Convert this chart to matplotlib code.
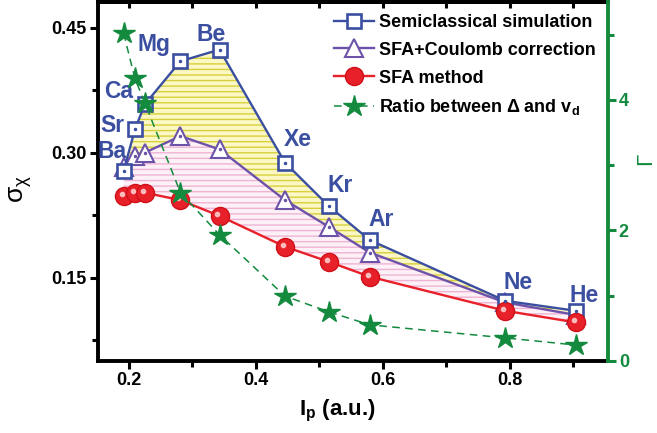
import matplotlib
matplotlib.use('Agg')
import matplotlib.pyplot as plt
import matplotlib.transforms as mtransforms
from matplotlib.ticker import MultipleLocator
from matplotlib.lines import Line2D

plt.rcParams['font.family'] = ['Liberation Sans', 'DejaVu Sans']
plt.rcParams['font.weight'] = 'bold'
plt.rcParams['axes.labelweight'] = 'bold'
plt.rcParams['mathtext.fontset'] = 'custom'
plt.rcParams['mathtext.rm'] = 'Liberation Sans:bold'
plt.rcParams['mathtext.it'] = 'Liberation Sans:bold'
plt.rcParams['mathtext.bf'] = 'Liberation Sans:bold'
plt.rcParams['hatch.linewidth'] = 1.0

# ── Data ──────────────────────────────────────────────────────────────────────
ELEMENTS = ['Ba', 'Sr', 'Ca', 'Mg', 'Be', 'Xe', 'Kr', 'Ar', 'Ne', 'He']
IP = [0.1916, 0.2093, 0.2247, 0.2810, 0.3426, 0.4458, 0.5145, 0.5792, 0.7925, 0.9036]
SEMICLASSICAL = [0.278, 0.328, 0.358, 0.410, 0.424, 0.288, 0.236, 0.195, 0.122, 0.110]
SFA_COULOMB = [0.283, 0.296, 0.300, 0.320, 0.304, 0.243, 0.211, 0.180, 0.120, 0.105]
SFA = [0.248, 0.252, 0.252, 0.243, 0.224, 0.187, 0.169, 0.151, 0.110, 0.096]
RATIO = [5.02, 4.33, 3.96, 2.58, 1.93, 0.99, 0.75, 0.55, 0.35, 0.24]

# label offsets (points) from the semiclassical markers
LABEL_OFFSETS = [(-8, 14), (-16, 3), (-19, 9), (-19, 12), (-6, 11),
                 (9, 17), (8, 15), (8, 15), (9, 13), (6, 11)]

BLUE = '#3b4fa1'
PURPLE = '#6d52aa'
RED = '#e8202a'
GREEN = '#138a3e'


def plot(output='out.png'):
    fig = plt.figure(figsize=(6.57, 4.33), dpi=100)
    ax = fig.add_axes([0.149, 0.167, 0.776, 0.828])

    # shaded bands
    ax.fill_between(IP, SFA_COULOMB, SEMICLASSICAL, facecolor='#fbf8c6',
                    edgecolor='#d8d03a', hatch='---', linewidth=0, zorder=1)
    ax.fill_between(IP, SFA, SFA_COULOMB, facecolor='#fdf0f6',
                    edgecolor='#eeb4d4', hatch='---', linewidth=0, zorder=1)

    ax.plot(IP, SEMICLASSICAL, color=BLUE, lw=1.7, marker='s', ms=10.5,
            mfc='white', mec=BLUE, mew=1.9, zorder=4)
    ax.plot(IP, SEMICLASSICAL, ls='none', marker='.', ms=3, color=BLUE, zorder=5)
    ax.plot(IP, SFA_COULOMB, color=PURPLE, lw=1.7, marker='^', ms=13,
            mfc='white', mec=PURPLE, mew=1.5, zorder=3)
    ax.plot(IP, SFA_COULOMB, ls='none', marker='.', ms=3, color=PURPLE, zorder=3.5)
    ax.plot(IP, SFA, color=RED, lw=1.7, marker='o', ms=13,
            mfc=RED, mec='#d01018', zorder=4)
    hl = mtransforms.offset_copy(ax.transData, fig=fig, x=-1.5, y=1.5, units='points')
    ax.plot(IP, SFA, ls='none', marker='o', ms=3, color='#ffc8c8', alpha=0.9,
            transform=hl, zorder=4.5)

    for name, x, y, (dx, dy) in zip(ELEMENTS, IP, SEMICLASSICAL, LABEL_OFFSETS):
        ax.annotate(name, (x, y), xytext=(dx, dy), textcoords='offset points',
                    ha='center', va='center', fontsize=16.5, fontweight='bold',
                    color=BLUE, zorder=6)

    ax.set_xlim(0.151, 0.954)
    ax.set_ylim(0.05, 0.481)
    ax.xaxis.set_major_locator(MultipleLocator(0.2))
    ax.xaxis.set_minor_locator(MultipleLocator(0.1))
    ax.yaxis.set_major_locator(MultipleLocator(0.15))
    ax.yaxis.set_minor_locator(MultipleLocator(0.075))
    ax.xaxis.set_major_formatter(lambda v, p: f'{v:.1f}')
    ax.yaxis.set_major_formatter(lambda v, p: f'{v:.2f}')
    ax.tick_params(which='both', direction='out', width=2.2, labelsize=13, pad=2)
    ax.tick_params(which='major', length=6)
    ax.tick_params(which='minor', length=4)
    for lbl in ax.get_xticklabels() + ax.get_yticklabels():
        lbl.set_fontweight('bold')
    for s in ['left', 'bottom', 'top']:
        ax.spines[s].set_linewidth(2.8)
    ax.spines['right'].set_visible(False)

    top = ax.secondary_xaxis('top')
    top.xaxis.set_major_locator(MultipleLocator(0.2))
    top.xaxis.set_minor_locator(MultipleLocator(0.1))
    top.tick_params(which='both', direction='in', width=2.2, length=4, labeltop=False)
    top.spines['top'].set_linewidth(2.8)

    ax.set_ylabel(r'$\mathregular{\sigma_{\chi}}$', fontsize=19, fontweight='normal')
    ax.yaxis.set_label_coords(-0.125, 0.48)
    ax.set_xlabel(r'$\mathregular{I_p}$ (a.u.)', fontsize=16, fontweight='bold')
    ax.xaxis.set_label_coords(0.47, -0.105)

    ax2 = ax.twinx()
    ax2.plot(IP, RATIO, color=GREEN, lw=1.1, ls=(0, (5, 3.5)), marker='*',
             ms=16, mfc=GREEN, mec=GREEN, zorder=5)
    ax2.set_ylim(0, 5.5)
    ax2.yaxis.set_major_locator(MultipleLocator(2))
    ax2.yaxis.set_minor_locator(MultipleLocator(1))
    ax2.tick_params(which='both', direction='out', width=2.2, colors=GREEN,
                    labelsize=13, pad=2)
    ax2.tick_params(which='major', length=6)
    ax2.tick_params(which='minor', length=4)
    for lbl in ax2.get_yticklabels():
        lbl.set_fontweight('bold')
    for s in ['left', 'bottom', 'top']:
        ax2.spines[s].set_visible(False)
    ax2.spines['right'].set_color(GREEN)
    ax2.spines['right'].set_linewidth(2.8)
    ax2.set_ylabel(r'$\mathregular{\Gamma}$', color=GREEN, fontsize=16,
                   fontweight='normal', rotation=90)
    ax2.yaxis.set_label_coords(1.058, 0.56)

    handles = [
        Line2D([], [], color=BLUE, lw=1.7, marker='s', ms=10.5, mfc='white', mec=BLUE, mew=1.9),
        Line2D([], [], color=PURPLE, lw=1.7, marker='^', ms=13, mfc='white', mec=PURPLE, mew=1.5),
        Line2D([], [], color=RED, lw=1.7, marker='o', ms=13, mfc=RED, mec='#d01018'),
        Line2D([], [], color=GREEN, lw=1.1, ls=(0, (5, 3.5)), marker='*', ms=16, mfc=GREEN, mec=GREEN),
    ]
    labels = ['Semiclassical simulation', 'SFA+Coulomb correction', 'SFA method',
              r'Ratio between $\mathregular{\Delta}$ and v$_\mathregular{d}$']
    ax2.legend(handles, labels, loc='upper right', bbox_to_anchor=(1.0, 1.0),
               frameon=False, prop={'size': 13, 'weight': 'bold'},
               handlelength=2.2, handletextpad=0.3,
               labelspacing=0.6, borderaxespad=0.25)

    fig.savefig(output, dpi=100)
    plt.close(fig)


if __name__ == '__main__':
    plot()
